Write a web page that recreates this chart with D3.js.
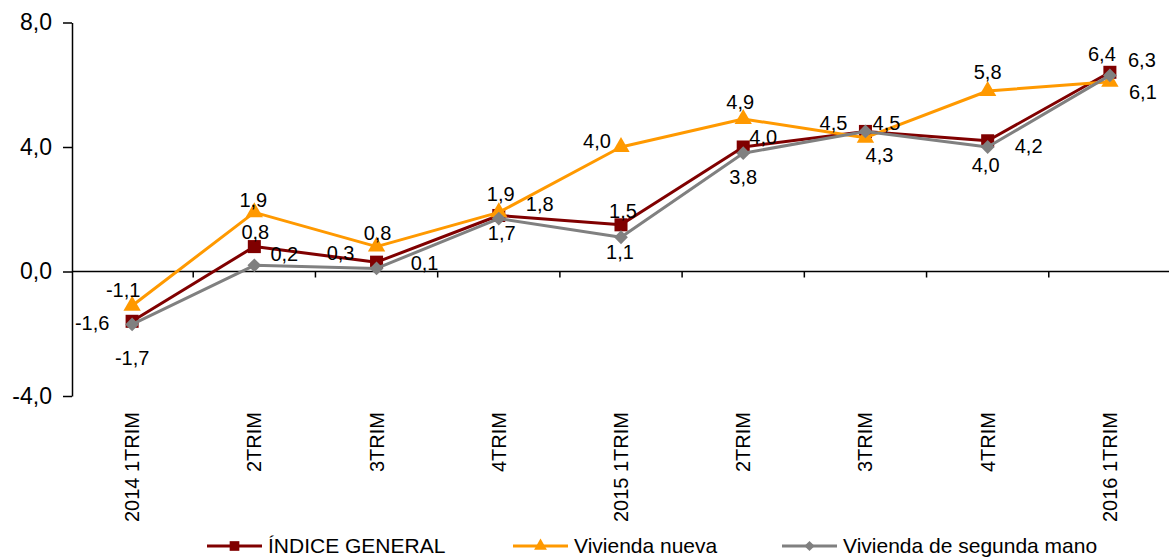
<!DOCTYPE html>
<html><head><meta charset="utf-8">
<script src="https://cdn.jsdelivr.net/npm/d3@7"></script>
<style>
html,body{margin:0;padding:0;background:#fff;}
svg{display:block;font-family:Arial,"Liberation Sans",sans-serif;}
</style></head>
<body>
<svg id="chart" width="1169" height="558"></svg>
<script>
const categories = ["2014 1TRIM","2TRIM","3TRIM","4TRIM","2015 1TRIM","2TRIM","3TRIM","4TRIM","2016 1TRIM"];
const indiceGeneral = [-1.6, 0.8, 0.3, 1.8, 1.5, 4.0, 4.5, 4.2, 6.4];
const viviendaNueva = [-1.1, 1.9, 0.8, 1.9, 4.0, 4.9, 4.3, 5.8, 6.1];
const segundaMano   = [-1.7, 0.2, 0.1, 1.7, 1.1, 3.8, 4.5, 4.0, 6.3];
const yTicks = [-4, 0, 4, 8];
const seriesNames = ["ÍNDICE GENERAL", "Vivienda nueva", "Vivienda de segunda mano"];

// label placement offsets (pixels, relative to point) – styling, not data
const offIG = [[-40,2],[1,-15],[-36,-9],[41,-11],[2,-14],[20,-10],[-32,-8],[41,5],[-8,-18]];
const offVN = [[-9,-16],[-1,-12],[1,-14],[2,-18],[-24,-6],[-3,-17],[14,17],[0,-19],[33,10]];
const offSM = [[0,34],[30,-11],[48,-5],[3,14],[-1,15],[0,24],[21,-8],[-2,18],[32,-15]];

const svg = d3.select("#chart");
const x = d3.scaleBand().domain(d3.range(categories.length)).range([71, 1171]).padding(0);
const y = d3.scaleLinear().domain([-4, 8]).range([396, 22.5]);
const cx = i => x(i) + x.bandwidth() / 2;
const fmt = v => v.toFixed(1).replace(".", ",");

// Y axis
const yAxis = svg.append("g").attr("transform", "translate(72,0)")
  .call(d3.axisLeft(y).tickValues(yTicks).tickSize(9).tickSizeOuter(0).tickPadding(11).tickFormat(fmt));
yAxis.select(".domain").attr("stroke", "#000").attr("stroke-width", 1.5);
yAxis.selectAll(".tick line").attr("stroke", "#000").attr("stroke-width", 1.5);
yAxis.selectAll(".tick text").attr("font-size", 23).attr("fill", "#000").attr("font-family", "Arial, 'Liberation Sans', sans-serif");

// X axis line at zero
svg.append("line").attr("x1", 72).attr("x2", 1169).attr("y1", y(0)).attr("y2", y(0))
  .attr("stroke", "#000").attr("stroke-width", 1.5);
svg.append("g").selectAll("line").data(d3.range(1, categories.length)).join("line")
  .attr("x1", d => x(d)).attr("x2", d => x(d))
  .attr("y1", y(0)).attr("y2", y(0) + 6)
  .attr("stroke", "#000").attr("stroke-width", 1.5);

// category labels
svg.append("g").selectAll("text").data(categories).join("text")
  .attr("transform", (d, i) => `translate(${cx(i)},412) rotate(-90)`)
  .attr("text-anchor", "end").attr("dy", "0.35em")
  .attr("font-size", 20).attr("fill", "#000").text(d => d);

const series = [
  {name: seriesNames[0], values: indiceGeneral, color: "#800000", shape: d3.symbolSquare, size: 170, rot: 0, off: offIG},
  {name: seriesNames[1], values: viviendaNueva, color: "#FF9900", shape: d3.symbolTriangle, size: 130, rot: 0, off: offVN},
  {name: seriesNames[2], values: segundaMano, color: "#808080", shape: d3.symbolSquare, size: 95, rot: 45, off: offSM}
];

const line = d3.line().x((d, i) => cx(i)).y(d => y(d));

series.forEach(s => {
  const g = svg.append("g");
  g.append("path").datum(s.values).attr("d", line)
    .attr("fill", "none").attr("stroke", s.color).attr("stroke-width", 3).attr("stroke-linejoin", "round");
  g.selectAll("path.m").data(s.values).join("path").attr("class", "m")
    .attr("transform", (d, i) => `translate(${cx(i)},${y(d)}) rotate(${s.rot})`)
    .attr("d", d3.symbol().type(s.shape).size(s.size)).attr("fill", s.color);
});

series.forEach(s => {
  svg.append("g").selectAll("text").data(s.values).join("text")
    .attr("x", (d, i) => cx(i) + s.off[i][0])
    .attr("y", (d, i) => y(d) + s.off[i][1])
    .attr("dy", "0.35em").attr("text-anchor", "middle")
    .attr("font-size", 20).attr("fill", "#000").text(d => fmt(d));
});

// legend
const legendX = [207, 513, 782];
const lg = svg.append("g").selectAll("g").data(series).join("g")
  .attr("transform", (d, i) => `translate(${legendX[i]},546)`);
lg.append("line").attr("x1", 0).attr("x2", 55).attr("stroke", d => d.color).attr("stroke-width", 3);
lg.append("path").attr("transform", d => `translate(27.5,0) rotate(${d.rot})`)
  .attr("d", d => d3.symbol().type(d.shape).size(d.size * 0.55)()).attr("fill", d => d.color);
lg.append("text").attr("x", 61).attr("y", 7).attr("font-size", 21).attr("fill", "#000").text(d => d.name);
</script>
</body></html>
